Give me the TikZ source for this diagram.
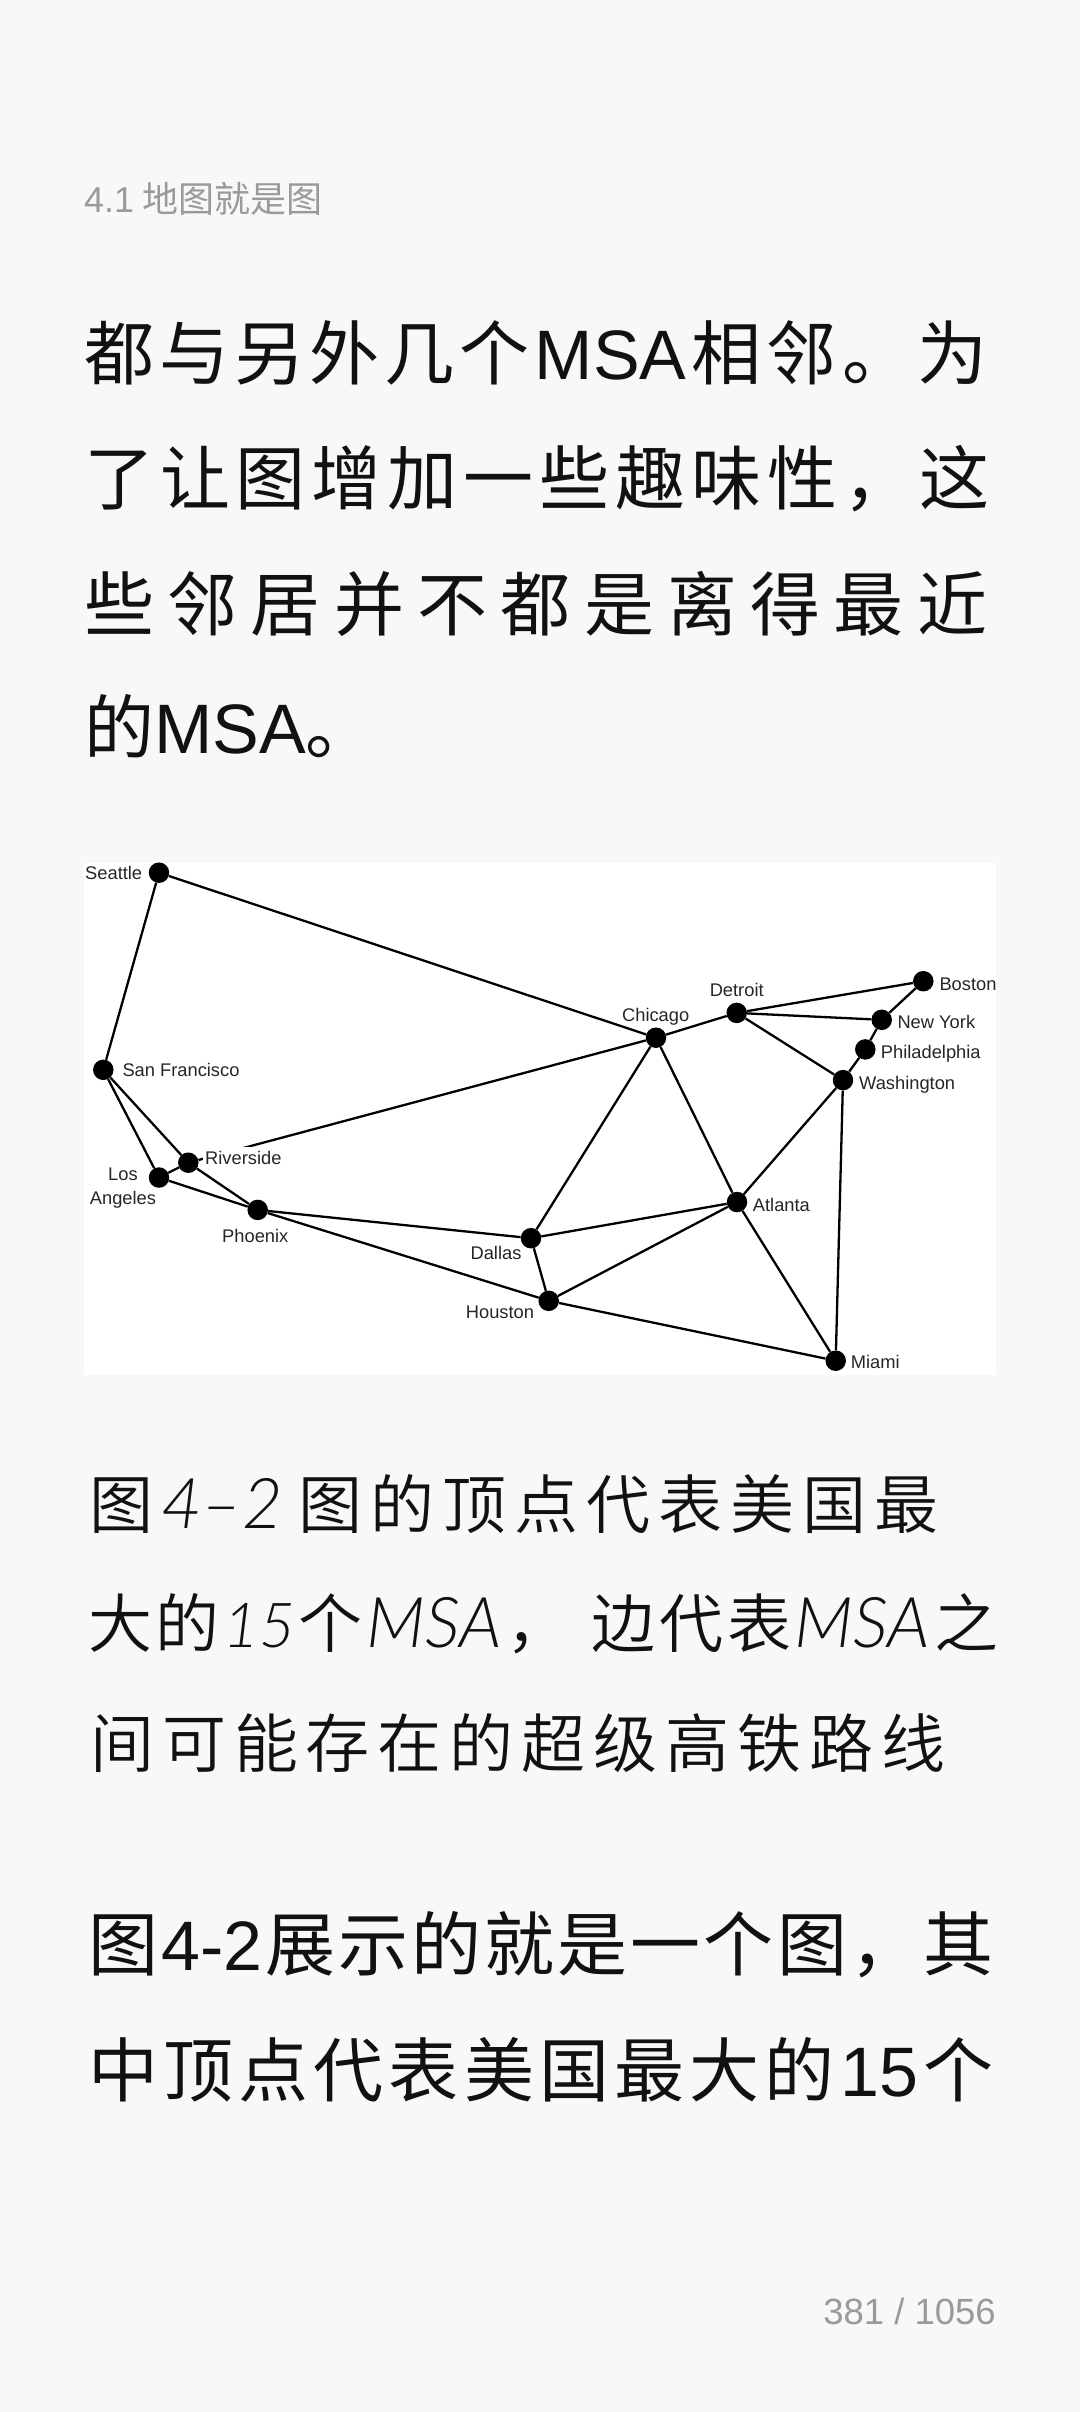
\documentclass[tikz,border=0pt]{standalone}
\usepackage{fontspec}
\setmainfont{Liberation Sans}
\newfontfamily\cjk{Noto Sans CJK SC}
\newfontfamily\cjklight{Noto Sans CJK SC DemiLight}
\newfontfamily\capl{Lato}[ItalicFont={Lato Light Italic}]
\definecolor{pagebg}{HTML}{F7F8FA}
\definecolor{greytxt}{HTML}{9A9A9C}
\definecolor{inktxt}{HTML}{111111}
\newcommand{\bodyfont}{\cjk\fontsize{70pt}{70pt}\selectfont}
\newcommand{\capfont}{\cjklight\fontsize{64pt}{64pt}\selectfont}
\newcommand{\ltn}[1]{{\rmfamily #1}}
\newcommand{\capital}[1]{{\capl\itshape\fontsize{70pt}{70pt}\selectfont #1}}
\newcommand{\capnum}[1]{{\capl\itshape\fontsize{62pt}{62pt}\selectfont #1}}
\newcommand{\wide}{\hskip 0pt plus 6fil\relax}
\tikzset{
  dot/.style={circle,fill=black,inner sep=0pt,minimum size=20.5pt},
  edge/.style={line width=2.3pt,black},
  lab/.style={inner sep=0pt,text height=13pt,text depth=0pt,font=\fontsize{18.3pt}{23.8pt}\selectfont,text=black!85},
  bodyline/.style={anchor=base west,inner sep=0pt,text=inktxt,font=\bodyfont},
  capline/.style={anchor=base west,inner sep=0pt,text=inktxt,font=\capfont},
  greyline/.style={anchor=base west,inner sep=0pt,text=greytxt,font=\cjk\fontsize{36pt}{36pt}\selectfont}
}
\begin{document}
\begin{tikzpicture}[x=1pt,y=-1pt]
\useasboundingbox (0,0) rectangle (1080,2412);
\fill[pagebg] (0,0) rectangle (1080,2412);
\node[greyline] (hdr) at (84,212) {\ltn{4.1} 地图就是图};
\node[bodyline] (b1) at (84,379) {\hbox to 903pt{都\hfil 与\hfil 另\hfil 外\hfil 几\hfil 个\hfil \ltn{MSA}\hfil 相\hfil 邻\hfil 。\hfil 为}};
\node[bodyline] (b2) at (84,504) {\hbox to 905pt{了\hfil 让\hfil 图\hfil 增\hfil 加\hfil 一\hfil 些\hfil 趣\hfil 味\hfil 性\hfil ，\hfil 这}};
\node[bodyline] (b3) at (84,630) {\hbox to 903pt{些\hfil 邻\hfil 居\hfil 并\hfil 不\hfil 都\hfil 是\hfil 离\hfil 得\hfil 最\hfil 近}};
\node[bodyline] (b4) at (84,753) {的\ltn{MSA}。};
\fill[white] (84,863.4) rectangle (996,1374.9);
\node[dot] (sea) at (159,872.7) {};
\node[dot] (sf) at (103.3,1069.8) {};
\node[dot] (riv) at (188.3,1162.7) {};
\node[dot] (la) at (159,1177.5) {};
\node[dot] (phx) at (257.7,1209.9) {};
\node[dot] (dal) at (531,1238.2) {};
\node[dot] (hou) at (548.7,1300.8) {};
\node[dot] (chi) at (656,1037.7) {};
\node[dot] (det) at (736.7,1012.9) {};
\node[dot] (bos) at (923.3,981.2) {};
\node[dot] (ny) at (881.7,1019.8) {};
\node[dot] (phi) at (865.3,1049.4) {};
\node[dot] (was) at (843,1080.1) {};
\node[dot] (atl) at (737,1202) {};
\node[dot] (mia) at (835.7,1360.7) {};
\draw[edge] (sea)--(sf);
\draw[edge] (sea)--(chi);
\draw[edge] (sf)--(la);
\draw[edge] (sf)--(riv);
\draw[edge] (riv)--(la);
\draw[edge] (riv)--(phx);
\draw[edge] (la)--(phx);
\draw[edge] (phx)--(dal);
\draw[edge] (phx)--(hou);
\draw[edge] (dal)--(chi);
\draw[edge] (dal)--(atl);
\draw[edge] (dal)--(hou);
\draw[edge] (hou)--(atl);
\draw[edge] (hou)--(mia);
\draw[edge] (chi)--(atl);
\draw[edge] (chi)--(det);
\draw[edge] (chi)--(riv);
\draw[edge] (det)--(bos);
\draw[edge] (det)--(ny);
\draw[edge] (det)--(was);
\draw[edge] (bos)--(ny);
\draw[edge] (ny)--(phi);
\draw[edge] (phi)--(was);
\draw[edge] (was)--(atl);
\draw[edge] (was)--(mia);
\draw[edge] (atl)--(mia);
\node[lab,anchor=west] (lsea) at (85,872.7) {Seattle};
\node[lab,anchor=west] (lsf) at (122.3,1069.8) {San Francisco};
\node[lab,anchor=west,fill=white,inner xsep=2pt,inner ysep=4.8pt] (lriv) at (203,1158.3) {Riverside};
\node[lab,align=center,text height=,text depth=] (lla) at (123,1187.9) {Los\\Angeles};
\node[lab] (lphx) at (255.3,1236.4) {Phoenix};
\node[lab] (ldal) at (496,1253.3) {Dallas};
\node[lab] (lhou) at (500,1312.2) {Houston};
\node[lab] (lchi) at (655.7,1014.6) {Chicago};
\node[lab] (ldet) at (736.7,990.2) {Detroit};
\node[lab,anchor=west] (lbos) at (939.3,983.6) {Boston};
\node[lab,anchor=west] (lny) at (897.3,1022.2) {New York};
\node[lab,anchor=west] (lphi) at (880.7,1051.8) {Philadelphia};
\node[lab,anchor=west] (lwas) at (859,1082.5) {Washington};
\node[lab,anchor=west] (latl) at (752.7,1204.7) {Atlanta};
\node[lab,anchor=west] (lmia) at (850.7,1362.1) {Miami};
\node[capline] (c1) at (89,1528) {\hbox to 849pt{图\hfil \capital{4–2}\hfil\hfil 图\hfil 的\hfil 顶\hfil 点\hfil 代\hfil 表\hfil 美\hfil 国\hfil 最}};
\node[capline] (c2) at (88,1647) {\hbox to 910pt{大\hfil 的\hfil \capnum{15}\hfil 个\hfil \capital{MSA}\hfil ，\wide 边\hfil 代\hfil 表\hfil \capital{MSA}\hfil 之}};
\node[capline] (c3) at (90,1767) {\hbox to 855pt{间\hfil 可\hfil 能\hfil 存\hfil 在\hfil 的\hfil 超\hfil 级\hfil 高\hfil 铁\hfil 路\hfil 线}};
\node[bodyline] (b5) at (88,1970) {\hbox to 905pt{图\hfil \ltn{4-2}\hfil 展\hfil 示\hfil 的\hfil 就\hfil 是\hfil 一\hfil 个\hfil 图\hfil ，\hfil 其}};
\node[bodyline] (b6) at (88,2096) {\hbox to 905pt{中\hfil 顶\hfil 点\hfil 代\hfil 表\hfil 美\hfil 国\hfil 最\hfil 大\hfil 的\hfil \ltn{15}\hfil 个}};
\node[greyline,anchor=base east,font=\rmfamily\fontsize{36.5pt}{36.5pt}\selectfont] (pg) at (996,2324) {381 / 1056};
\end{tikzpicture}
\end{document}
